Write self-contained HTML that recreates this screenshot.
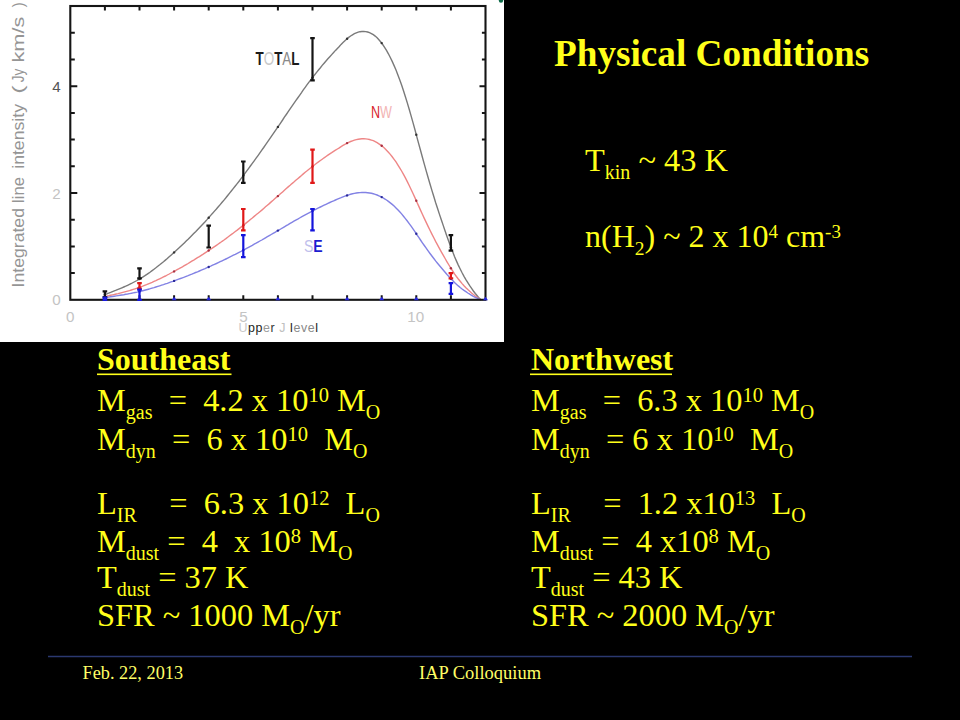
<!DOCTYPE html>
<html><head><meta charset="utf-8"><title>Physical Conditions</title>
<style>
html,body{margin:0;padding:0;background:#000;}
body{width:960px;height:720px;position:relative;overflow:hidden;}
svg text{white-space:pre;}
</style></head>
<body>
<svg width="504" height="342" viewBox="0 0 504 342" style="position:absolute;left:0;top:0">
<rect x="0" y="0" width="504" height="342" fill="#fff"/>
<path d="M104.9,294.5 L106.8,293.8 L108.7,293.1 L110.6,292.4 L112.5,291.6 L114.3,290.9 L116.2,290.2 L118.1,289.4 L120.0,288.6 L121.9,287.8 L123.8,287.0 L125.7,286.2 L127.6,285.3 L129.5,284.4 L131.4,283.5 L133.2,282.5 L135.1,281.5 L137.0,280.5 L138.9,279.4 L140.8,278.3 L142.7,277.1 L144.6,275.9 L146.5,274.6 L148.4,273.3 L150.3,272.0 L152.1,270.6 L154.0,269.2 L155.9,267.8 L157.8,266.3 L159.7,264.8 L161.6,263.2 L163.5,261.7 L165.4,260.1 L167.3,258.5 L169.2,256.8 L171.0,255.2 L172.9,253.5 L174.8,251.8 L176.7,250.0 L178.6,248.3 L180.5,246.5 L182.4,244.7 L184.3,242.9 L186.2,241.1 L188.1,239.3 L189.9,237.4 L191.8,235.5 L193.7,233.6 L195.6,231.7 L197.5,229.7 L199.4,227.7 L201.3,225.7 L203.2,223.7 L205.1,221.7 L207.0,219.6 L208.8,217.5 L210.7,215.4 L212.6,213.3 L214.5,211.1 L216.4,209.0 L218.3,206.8 L220.2,204.6 L222.1,202.3 L224.0,200.1 L225.9,197.8 L227.7,195.5 L229.6,193.1 L231.5,190.8 L233.4,188.4 L235.3,186.0 L237.2,183.6 L239.1,181.2 L241.0,178.7 L242.9,176.2 L244.8,173.7 L246.6,171.2 L248.5,168.6 L250.4,166.0 L252.3,163.4 L254.2,160.8 L256.1,158.2 L258.0,155.6 L259.9,152.9 L261.8,150.2 L263.7,147.5 L265.5,144.8 L267.4,142.1 L269.3,139.4 L271.2,136.6 L273.1,133.9 L275.0,131.1 L276.9,128.4 L278.8,125.6 L280.7,122.8 L282.6,120.0 L284.4,117.2 L286.3,114.5 L288.2,111.7 L290.1,108.9 L292.0,106.2 L293.9,103.4 L295.8,100.7 L297.7,98.0 L299.6,95.3 L301.5,92.6 L303.3,89.9 L305.2,87.3 L307.1,84.7 L309.0,82.2 L310.9,79.7 L312.8,77.2 L314.7,74.8 L316.6,72.4 L318.5,70.0 L320.4,67.7 L322.2,65.4 L324.1,63.2 L326.0,61.0 L327.9,58.8 L329.8,56.7 L331.7,54.6 L333.6,52.5 L335.5,50.4 L337.4,48.4 L339.3,46.4 L341.1,44.4 L343.0,42.5 L344.9,40.7 L346.8,39.0 L348.7,37.4 L350.6,36.0 L352.5,34.8 L354.4,33.7 L356.3,32.9 L358.2,32.2 L360.0,31.7 L361.9,31.5 L363.8,31.4 L365.7,31.6 L367.6,32.0 L369.5,32.7 L371.4,33.6 L373.3,34.7 L375.2,36.1 L377.1,37.8 L378.9,39.7 L380.8,42.0 L382.7,44.5 L384.6,47.3 L386.5,50.4 L388.4,53.8 L390.3,57.5 L392.2,61.4 L394.1,65.6 L396.0,70.0 L397.8,74.8 L399.7,79.8 L401.6,85.1 L403.5,90.8 L405.4,96.7 L407.3,102.9 L409.2,109.3 L411.1,115.9 L413.0,122.6 L414.9,129.5 L416.7,136.4 L418.6,143.4 L420.5,150.3 L422.4,157.2 L424.3,164.1 L426.2,170.9 L428.1,177.5 L430.0,184.0 L431.9,190.4 L433.8,196.5 L435.6,202.5 L437.5,208.3 L439.4,214.1 L441.3,219.7 L443.2,225.4 L445.1,231.0 L447.0,236.5 L448.9,241.8 L450.8,246.9 L452.7,251.8 L454.5,256.5 L456.4,260.9 L458.3,265.1 L460.2,269.0 L462.1,272.8 L464.0,276.3 L465.9,279.6 L467.8,282.7 L469.7,285.7 L471.6,288.4 L473.4,291.0 L475.3,293.5 L477.2,295.8 L479.1,298.1 L481.0,299.8" fill="none" stroke="#7a7a7a" stroke-width="1.4"/>
<circle cx="104.9" cy="294.5" r="1.2" fill="#333"/>
<circle cx="139.5" cy="279.0" r="1.2" fill="#333"/>
<circle cx="174.1" cy="252.4" r="1.2" fill="#333"/>
<circle cx="208.7" cy="217.7" r="1.2" fill="#333"/>
<circle cx="243.3" cy="175.6" r="1.2" fill="#333"/>
<circle cx="277.9" cy="126.9" r="1.2" fill="#333"/>
<circle cx="312.5" cy="77.6" r="1.2" fill="#333"/>
<circle cx="347.1" cy="38.7" r="1.2" fill="#333"/>
<circle cx="381.7" cy="43.1" r="1.2" fill="#333"/>
<circle cx="416.3" cy="134.8" r="1.2" fill="#333"/>
<circle cx="450.9" cy="247.3" r="1.2" fill="#333"/>
<path d="M104.9,296.6 L106.8,296.2 L108.7,295.8 L110.6,295.3 L112.5,294.9 L114.3,294.5 L116.2,294.0 L118.1,293.6 L120.0,293.1 L121.9,292.6 L123.8,292.1 L125.7,291.6 L127.6,291.1 L129.5,290.6 L131.4,290.0 L133.2,289.4 L135.1,288.8 L137.0,288.2 L138.9,287.5 L140.8,286.9 L142.7,286.2 L144.6,285.4 L146.5,284.7 L148.4,283.9 L150.3,283.1 L152.1,282.3 L154.0,281.4 L155.9,280.6 L157.8,279.7 L159.7,278.8 L161.6,277.9 L163.5,276.9 L165.4,276.0 L167.3,275.0 L169.2,274.0 L171.0,273.0 L172.9,272.0 L174.8,271.0 L176.7,269.9 L178.6,268.9 L180.5,267.8 L182.4,266.8 L184.3,265.7 L186.2,264.6 L188.1,263.5 L189.9,262.4 L191.8,261.2 L193.7,260.1 L195.6,258.9 L197.5,257.7 L199.4,256.6 L201.3,255.4 L203.2,254.2 L205.1,252.9 L207.0,251.7 L208.8,250.4 L210.7,249.2 L212.6,247.9 L214.5,246.6 L216.4,245.3 L218.3,244.0 L220.2,242.7 L222.1,241.3 L224.0,240.0 L225.9,238.6 L227.7,237.2 L229.6,235.8 L231.5,234.4 L233.4,233.0 L235.3,231.5 L237.2,230.1 L239.1,228.6 L241.0,227.1 L242.9,225.6 L244.8,224.1 L246.6,222.6 L248.5,221.1 L250.4,219.5 L252.3,218.0 L254.2,216.4 L256.1,214.8 L258.0,213.3 L259.9,211.7 L261.8,210.1 L263.7,208.4 L265.5,206.8 L267.4,205.2 L269.3,203.6 L271.2,201.9 L273.1,200.3 L275.0,198.6 L276.9,196.9 L278.8,195.3 L280.7,193.6 L282.6,191.9 L284.4,190.3 L286.3,188.6 L288.2,186.9 L290.1,185.3 L292.0,183.6 L293.9,182.0 L295.8,180.3 L297.7,178.7 L299.6,177.1 L301.5,175.5 L303.3,173.9 L305.2,172.3 L307.1,170.8 L309.0,169.2 L310.9,167.7 L312.8,166.2 L314.7,164.8 L316.6,163.3 L318.5,161.9 L320.4,160.5 L322.2,159.2 L324.1,157.8 L326.0,156.5 L327.9,155.2 L329.8,153.9 L331.7,152.7 L333.6,151.4 L335.5,150.2 L337.4,149.0 L339.3,147.8 L341.1,146.6 L343.0,145.4 L344.9,144.3 L346.8,143.3 L348.7,142.4 L350.6,141.5 L352.5,140.8 L354.4,140.2 L356.3,139.6 L358.2,139.2 L360.0,139.0 L361.9,138.8 L363.8,138.8 L365.7,138.9 L367.6,139.1 L369.5,139.5 L371.4,140.1 L373.3,140.7 L375.2,141.6 L377.1,142.6 L378.9,143.8 L380.8,145.1 L382.7,146.6 L384.6,148.3 L386.5,150.2 L388.4,152.2 L390.3,154.4 L392.2,156.8 L394.1,159.3 L396.0,161.9 L397.8,164.8 L399.7,167.8 L401.6,171.0 L403.5,174.4 L405.4,177.9 L407.3,181.6 L409.2,185.5 L411.1,189.5 L413.0,193.5 L414.9,197.6 L416.7,201.8 L418.6,205.9 L420.5,210.1 L422.4,214.3 L424.3,218.4 L426.2,222.4 L428.1,226.4 L430.0,230.3 L431.9,234.1 L433.8,237.8 L435.6,241.4 L437.5,244.9 L439.4,248.4 L441.3,251.8 L443.2,255.2 L445.1,258.5 L447.0,261.8 L448.9,265.0 L450.8,268.1 L452.7,271.0 L454.5,273.8 L456.4,276.5 L458.3,279.0 L460.2,281.3 L462.1,283.6 L464.0,285.7 L465.9,287.7 L467.8,289.6 L469.7,291.3 L471.6,293.0 L473.4,294.5 L475.3,296.0 L477.2,297.4 L479.1,298.8 L481.0,299.8" fill="none" stroke="#ee8686" stroke-width="1.4"/>
<circle cx="104.9" cy="296.6" r="1.2" fill="#a83040"/>
<circle cx="139.5" cy="287.3" r="1.2" fill="#a83040"/>
<circle cx="174.1" cy="271.4" r="1.2" fill="#a83040"/>
<circle cx="208.7" cy="250.5" r="1.2" fill="#a83040"/>
<circle cx="243.3" cy="225.3" r="1.2" fill="#a83040"/>
<circle cx="277.9" cy="196.1" r="1.2" fill="#a83040"/>
<circle cx="312.5" cy="166.5" r="1.2" fill="#a83040"/>
<circle cx="347.1" cy="143.1" r="1.2" fill="#a83040"/>
<circle cx="381.7" cy="145.8" r="1.2" fill="#a83040"/>
<circle cx="416.3" cy="200.8" r="1.2" fill="#a83040"/>
<circle cx="450.9" cy="268.3" r="1.2" fill="#a83040"/>
<path d="M104.9,297.7 L106.8,297.4 L108.7,297.1 L110.6,296.8 L112.5,296.5 L114.3,296.2 L116.2,295.9 L118.1,295.6 L120.0,295.3 L121.9,295.0 L123.8,294.7 L125.7,294.3 L127.6,294.0 L129.5,293.6 L131.4,293.3 L133.2,292.9 L135.1,292.5 L137.0,292.1 L138.9,291.6 L140.8,291.2 L142.7,290.7 L144.6,290.2 L146.5,289.7 L148.4,289.2 L150.3,288.7 L152.1,288.1 L154.0,287.6 L155.9,287.0 L157.8,286.4 L159.7,285.8 L161.6,285.2 L163.5,284.6 L165.4,283.9 L167.3,283.3 L169.2,282.6 L171.0,281.9 L172.9,281.3 L174.8,280.6 L176.7,279.9 L178.6,279.2 L180.5,278.5 L182.4,277.8 L184.3,277.1 L186.2,276.3 L188.1,275.6 L189.9,274.8 L191.8,274.1 L193.7,273.3 L195.6,272.5 L197.5,271.8 L199.4,271.0 L201.3,270.2 L203.2,269.4 L205.1,268.6 L207.0,267.7 L208.8,266.9 L210.7,266.1 L212.6,265.2 L214.5,264.3 L216.4,263.5 L218.3,262.6 L220.2,261.7 L222.1,260.8 L224.0,259.9 L225.9,259.0 L227.7,258.1 L229.6,257.1 L231.5,256.2 L233.4,255.2 L235.3,254.3 L237.2,253.3 L239.1,252.3 L241.0,251.4 L242.9,250.4 L244.8,249.4 L246.6,248.3 L248.5,247.3 L250.4,246.3 L252.3,245.3 L254.2,244.2 L256.1,243.2 L258.0,242.1 L259.9,241.0 L261.8,240.0 L263.7,238.9 L265.5,237.8 L267.4,236.7 L269.3,235.6 L271.2,234.5 L273.1,233.4 L275.0,232.3 L276.9,231.2 L278.8,230.1 L280.7,229.0 L282.6,227.9 L284.4,226.8 L286.3,225.7 L288.2,224.6 L290.1,223.4 L292.0,222.3 L293.9,221.2 L295.8,220.1 L297.7,219.1 L299.6,218.0 L301.5,216.9 L303.3,215.9 L305.2,214.8 L307.1,213.8 L309.0,212.8 L310.9,211.8 L312.8,210.8 L314.7,209.8 L316.6,208.8 L318.5,207.9 L320.4,207.0 L322.2,206.1 L324.1,205.2 L326.0,204.3 L327.9,203.4 L329.8,202.5 L331.7,201.7 L333.6,200.9 L335.5,200.0 L337.4,199.2 L339.3,198.4 L341.1,197.7 L343.0,196.9 L344.9,196.2 L346.8,195.5 L348.7,194.8 L350.6,194.3 L352.5,193.8 L354.4,193.4 L356.3,193.0 L358.2,192.8 L360.0,192.6 L361.9,192.5 L363.8,192.5 L365.7,192.5 L367.6,192.7 L369.5,193.0 L371.4,193.3 L373.3,193.8 L375.2,194.3 L377.1,195.0 L378.9,195.8 L380.8,196.7 L382.7,197.7 L384.6,198.8 L386.5,200.0 L388.4,201.4 L390.3,202.9 L392.2,204.4 L394.1,206.1 L396.0,207.9 L397.8,209.8 L399.7,211.8 L401.6,213.9 L403.5,216.2 L405.4,218.6 L407.3,221.0 L409.2,223.6 L411.1,226.2 L413.0,228.9 L414.9,231.7 L416.7,234.5 L418.6,237.2 L420.5,240.0 L422.4,242.8 L424.3,245.5 L426.2,248.2 L428.1,250.9 L430.0,253.5 L431.9,256.0 L433.8,258.5 L435.6,260.9 L437.5,263.2 L439.4,265.5 L441.3,267.8 L443.2,270.0 L445.1,272.3 L447.0,274.5 L448.9,276.6 L450.8,278.7 L452.7,280.6 L454.5,282.5 L456.4,284.2 L458.3,285.9 L460.2,287.5 L462.1,289.0 L464.0,290.4 L465.9,291.7 L467.8,293.0 L469.7,294.2 L471.6,295.3 L473.4,296.3 L475.3,297.3 L477.2,298.2 L479.1,299.1 L481.0,299.8" fill="none" stroke="#8282e4" stroke-width="1.4"/>
<circle cx="104.9" cy="297.7" r="1.2" fill="#2a2a9a"/>
<circle cx="139.5" cy="291.5" r="1.2" fill="#2a2a9a"/>
<circle cx="174.1" cy="280.9" r="1.2" fill="#2a2a9a"/>
<circle cx="208.7" cy="267.0" r="1.2" fill="#2a2a9a"/>
<circle cx="243.3" cy="250.1" r="1.2" fill="#2a2a9a"/>
<circle cx="277.9" cy="230.6" r="1.2" fill="#2a2a9a"/>
<circle cx="312.5" cy="210.9" r="1.2" fill="#2a2a9a"/>
<circle cx="347.1" cy="195.4" r="1.2" fill="#2a2a9a"/>
<circle cx="381.7" cy="197.1" r="1.2" fill="#2a2a9a"/>
<circle cx="416.3" cy="233.8" r="1.2" fill="#2a2a9a"/>
<circle cx="450.9" cy="278.8" r="1.2" fill="#2a2a9a"/>
<path d="M104.9,299.8v-4.5M104.9,6.0v4.5M139.5,299.8v-4.5M139.5,6.0v4.5M174.1,299.8v-4.5M174.1,6.0v4.5M208.7,299.8v-4.5M208.7,6.0v4.5M243.3,299.8v-4.5M243.3,6.0v4.5M277.9,299.8v-4.5M277.9,6.0v4.5M312.5,299.8v-4.5M312.5,6.0v4.5M347.1,299.8v-4.5M347.1,6.0v4.5M381.7,299.8v-4.5M381.7,6.0v4.5M416.3,299.8v-4.5M416.3,6.0v4.5M450.9,299.8v-4.5M450.9,6.0v4.5M70.3,273.1h4.5M485.5,273.1h-3.6M70.3,246.4h4.5M485.5,246.4h-3.6M70.3,219.7h4.5M485.5,219.7h-3.6M70.3,193.0h7M485.5,193.0h-6M70.3,166.3h4.5M485.5,166.3h-3.6M70.3,139.6h4.5M485.5,139.6h-3.6M70.3,112.9h4.5M485.5,112.9h-3.6M70.3,86.2h7M485.5,86.2h-6M70.3,59.5h4.5M485.5,59.5h-3.6M70.3,32.8h4.5M485.5,32.8h-3.6" stroke="#151515" stroke-width="2" fill="none"/>
<rect x="70.3" y="6.0" width="415.2" height="293.8" fill="none" stroke="#151515" stroke-width="2.1"/>
<path d="M104.9,291.3V297.1M102.6,291.3h4.6M102.6,297.1h4.6" stroke="#141414" stroke-width="2.2" fill="none"/>
<path d="M139.5,268.3V278.4M137.2,268.3h4.6M137.2,278.4h4.6" stroke="#141414" stroke-width="2.2" fill="none"/>
<path d="M208.7,225.6V247.5M206.4,225.6h4.6M206.4,247.5h4.6" stroke="#141414" stroke-width="2.2" fill="none"/>
<path d="M243.3,161.5V182.9M241.0,161.5h4.6M241.0,182.9h4.6" stroke="#141414" stroke-width="2.2" fill="none"/>
<path d="M312.5,38.1V80.3M310.2,38.1h4.6M310.2,80.3h4.6" stroke="#141414" stroke-width="2.2" fill="none"/>
<path d="M450.9,235.2V250.7M448.6,235.2h4.6M448.6,250.7h4.6" stroke="#141414" stroke-width="2.2" fill="none"/>
<path d="M139.5,283.2V288.6M137.2,283.2h4.6M137.2,288.6h4.6" stroke="#e01818" stroke-width="2.2" fill="none"/>
<path d="M243.3,209.0V230.4M241.0,209.0h4.6M241.0,230.4h4.6" stroke="#e01818" stroke-width="2.2" fill="none"/>
<path d="M312.5,149.7V182.9M310.2,149.7h4.6M310.2,182.9h4.6" stroke="#e01818" stroke-width="2.2" fill="none"/>
<path d="M450.9,273.1V278.4M448.6,273.1h4.6M448.6,278.4h4.6" stroke="#e01818" stroke-width="2.2" fill="none"/>
<path d="M104.9,297.7V299.8M102.6,297.7h4.6M102.6,299.8h4.6" stroke="#1414dc" stroke-width="2.2" fill="none"/>
<path d="M139.5,289.7V299.8M137.2,289.7h4.6M137.2,299.8h4.6" stroke="#1414dc" stroke-width="2.2" fill="none"/>
<path d="M243.3,235.2V257.1M241.0,235.2h4.6M241.0,257.1h4.6" stroke="#1414dc" stroke-width="2.2" fill="none"/>
<path d="M312.5,209.0V230.4M310.2,209.0h4.6M310.2,230.4h4.6" stroke="#1414dc" stroke-width="2.2" fill="none"/>
<path d="M450.9,283.2V293.9M448.6,283.2h4.6M448.6,293.9h4.6" stroke="#1414dc" stroke-width="2.2" fill="none"/>
<path d="M102.4,300.3L104.9,296.8L107.4,300.3Z" fill="#2424e0"/>
<path d="M171.6,300.3L174.1,296.8L176.6,300.3Z" fill="#2424e0"/>
<path d="M206.2,300.3L208.7,296.8L211.2,300.3Z" fill="#2424e0"/>
<path d="M275.4,300.3L277.9,296.8L280.4,300.3Z" fill="#2424e0"/>
<path d="M344.6,300.3L347.1,296.8L349.6,300.3Z" fill="#2424e0"/>
<path d="M379.2,300.3L381.7,296.8L384.2,300.3Z" fill="#2424e0"/>
<path d="M413.8,300.3L416.3,296.8L418.8,300.3Z" fill="#2424e0"/>
<path d="M483.0,300.3L485.5,296.8L488.0,300.3Z" fill="#2424e0"/>
<circle cx="501" cy="0.5" r="2.2" fill="#0c6a48"/>
<g font-family="Liberation Sans, sans-serif" fill="#c4c4c4" font-size="15.2" text-anchor="middle">
<text x="70.3" y="321.6">0</text>
<text x="243.6" y="321.6">5</text>
<text x="415.8" y="321.8">10</text>
<text x="56.5" y="304.8">0</text>
<text x="56.5" y="198.5">2</text>
<text x="56.5" y="91.7" fill="#555">4</text>
</g>
<text x="238.5" y="331.8" font-family="Liberation Sans, sans-serif" font-size="12.4" fill="#777" textLength="79.5" lengthAdjust="spacing"><tspan fill="#c8c8c8">U</tspan><tspan fill="#222">pp</tspan><tspan fill="#999">e</tspan><tspan fill="#333">r</tspan> <tspan fill="#c0c0c0">J</tspan> <tspan fill="#222">l</tspan><tspan fill="#888">eve</tspan><tspan fill="#222">l</tspan></text>
<g transform="translate(23.6,0) rotate(-90)" font-family="Liberation Sans, sans-serif" font-size="16.5" fill="#959595">
<text x="-287.5" y="0" textLength="79.5" lengthAdjust="spacingAndGlyphs">Integrated</text>
<text x="-203.0" y="0" textLength="26.0" lengthAdjust="spacingAndGlyphs">line</text>
<text x="-168.8" y="0" textLength="64.8" lengthAdjust="spacingAndGlyphs">intensity</text>
<text x="-93.8" y="0" textLength="8.4" lengthAdjust="spacingAndGlyphs">(</text>
<text x="-82.3" y="0" textLength="13.5" lengthAdjust="spacingAndGlyphs">Jy</text>
<text x="-62.5" y="0" textLength="45.8" lengthAdjust="spacingAndGlyphs">km/s</text>
<text x="-7.3" y="0" textLength="4.8" lengthAdjust="spacingAndGlyphs">)</text>
</g>
<text x="255.5" y="65" font-family="Liberation Sans, sans-serif" font-size="17.5" textLength="44" lengthAdjust="spacingAndGlyphs"><tspan fill="#1a1a1a" font-weight="bold">T</tspan><tspan fill="#c8c8c8">O</tspan><tspan fill="#1a1a1a" font-weight="bold">T</tspan><tspan fill="#8a8a8a">A</tspan><tspan fill="#1a1a1a" font-weight="bold">L</tspan></text>
<text x="371" y="118.2" font-family="Liberation Sans, sans-serif" font-size="16" textLength="21" lengthAdjust="spacingAndGlyphs"><tspan fill="#d82830">N</tspan><tspan fill="#f2b4b4">W</tspan></text>
<text x="304" y="251.6" font-family="Liberation Sans, sans-serif" font-size="16" font-weight="bold" textLength="18.7" lengthAdjust="spacingAndGlyphs"><tspan fill="#c0c0ec" font-weight="normal">S</tspan><tspan fill="#1c1cd0">E</tspan></text>
</svg>
<svg width="960" height="720" viewBox="0 0 960 720" style="position:absolute;left:0;top:0" font-family="Liberation Serif, serif">
<text x="554" y="65.5" font-size="37.2" font-weight="bold" fill="#ffff1a">Physical Conditions</text>
<text x="585" y="171.2" font-size="32.4" fill="#ffff1a" ><tspan>T</tspan><tspan dy="8.0" font-size="20">kin</tspan><tspan dy="-8.0"> ~ 43 K</tspan></text>
<text x="585" y="247.2" font-size="32" fill="#ffff1a" ><tspan>n(H</tspan><tspan dy="8.0" font-size="19.5">2</tspan><tspan dy="-8.0">) ~ 2 x 10</tspan><tspan dy="-9" font-size="19">4</tspan><tspan dy="9"> cm</tspan><tspan dy="-9" font-size="19">-3</tspan></text>
<text x="97" y="370.3" font-size="32" font-weight="bold" fill="#ffff1a">Southeast</text>
<rect x="97" y="373.5" width="134.5" height="1.6" fill="#ffff1a"/>
<text x="97" y="411.25" font-size="32.4" fill="#ffff1a" ><tspan>M</tspan><tspan dy="8.0" font-size="20">gas</tspan><tspan dy="-8.0">&#160; = &#160;4.2 x 10</tspan><tspan dy="-9" font-size="20.5">10</tspan><tspan dy="9"> M</tspan><tspan dy="8.0" font-size="20">O</tspan></text>
<text x="97" y="450" font-size="32.4" fill="#ffff1a" ><tspan>M</tspan><tspan dy="8.0" font-size="20">dyn</tspan><tspan dy="-8.0">&#160; = &#160;6 x 10</tspan><tspan dy="-9" font-size="20.5">10</tspan><tspan dy="9"> &#160;M</tspan><tspan dy="8.0" font-size="20">O</tspan></text>
<text x="97" y="513.9" font-size="32.4" fill="#ffff1a" ><tspan>L</tspan><tspan dy="8.0" font-size="20">IR</tspan><tspan dy="-8.0">&#160; &#160; = &#160;6.3 x 10</tspan><tspan dy="-9" font-size="20.5">12</tspan><tspan dy="9"> &#160;L</tspan><tspan dy="8.0" font-size="20">O</tspan></text>
<text x="97" y="551.7" font-size="32.4" fill="#ffff1a" ><tspan>M</tspan><tspan dy="8.0" font-size="20">dust</tspan><tspan dy="-8.0"> = &#160;4 &#160;x 10</tspan><tspan dy="-9" font-size="20.5">8</tspan><tspan dy="9"> M</tspan><tspan dy="8.0" font-size="20">O</tspan></text>
<text x="97" y="588.2" font-size="32.4" fill="#ffff1a" ><tspan>T</tspan><tspan dy="8.0" font-size="20">dust</tspan><tspan dy="-8.0"> = 37 K</tspan></text>
<text x="97" y="626.3" font-size="32.4" fill="#ffff1a" ><tspan>SFR ~ 1000 M</tspan><tspan dy="8.0" font-size="20">O</tspan><tspan dy="-8.0">/yr</tspan></text>
<text x="531" y="370.3" font-size="32" font-weight="bold" fill="#ffff1a">Northwest</text>
<rect x="530" y="373.5" width="142" height="1.6" fill="#ffff1a"/>
<text x="531" y="411.25" font-size="32.4" fill="#ffff1a" ><tspan>M</tspan><tspan dy="8.0" font-size="20">gas</tspan><tspan dy="-8.0">&#160; = &#160;6.3 x 10</tspan><tspan dy="-9" font-size="20.5">10</tspan><tspan dy="9"> M</tspan><tspan dy="8.0" font-size="20">O</tspan></text>
<text x="531" y="450" font-size="32.4" fill="#ffff1a" ><tspan>M</tspan><tspan dy="8.0" font-size="20">dyn</tspan><tspan dy="-8.0">&#160; = 6 x 10</tspan><tspan dy="-9" font-size="20.5">10</tspan><tspan dy="9"> &#160;M</tspan><tspan dy="8.0" font-size="20">O</tspan></text>
<text x="531" y="513.9" font-size="32.4" fill="#ffff1a" ><tspan>L</tspan><tspan dy="8.0" font-size="20">IR</tspan><tspan dy="-8.0">&#160; &#160; = &#160;1.2 x10</tspan><tspan dy="-9" font-size="20.5">13</tspan><tspan dy="9"> &#160;L</tspan><tspan dy="8.0" font-size="20">O</tspan></text>
<text x="531" y="551.7" font-size="32.4" fill="#ffff1a" ><tspan>M</tspan><tspan dy="8.0" font-size="20">dust</tspan><tspan dy="-8.0"> = &#160;4 x10</tspan><tspan dy="-9" font-size="20.5">8</tspan><tspan dy="9"> M</tspan><tspan dy="8.0" font-size="20">O</tspan></text>
<text x="531" y="588.2" font-size="32.4" fill="#ffff1a" ><tspan>T</tspan><tspan dy="8.0" font-size="20">dust</tspan><tspan dy="-8.0"> = 43 K</tspan></text>
<text x="531" y="626.3" font-size="32.4" fill="#ffff1a" ><tspan>SFR ~ 2000 M</tspan><tspan dy="8.0" font-size="20">O</tspan><tspan dy="-8.0">/yr</tspan></text>
<line x1="48" y1="656.6" x2="912" y2="656.6" stroke="#2b3870" stroke-width="1.5"/>
<text x="82.5" y="678.8" font-size="18.3" fill="#ffff66">Feb. 22, 2013</text>
<text x="419" y="679" font-size="18.5" fill="#ffff66">IAP Colloquium</text>
</svg>
</body></html>
